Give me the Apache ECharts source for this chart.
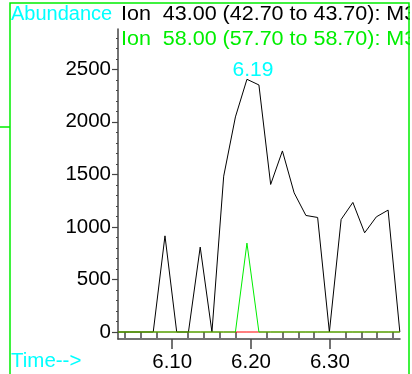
<!DOCTYPE html>
<html>
<head>
<meta charset="utf-8">
<script src="https://cdn.jsdelivr.net/npm/echarts@6/dist/echarts.min.js"></script>
<style>
html,body{margin:0;padding:0;background:#fff;}
#chart{width:412px;height:374px;}
</style>
</head>
<body>
<div id="chart"></div>
<script>
// retention times (min) of each scan
var times = [6.0312, 6.0461, 6.0610, 6.0759, 6.0908, 6.1057, 6.1206, 6.1355, 6.1504, 6.1653,
	6.1802, 6.1948, 6.2100, 6.2249, 6.2398, 6.2547, 6.2696, 6.2845, 6.2994, 6.3143,
	6.3292, 6.3441, 6.3590, 6.3739, 6.3888];
// Ion 43.00
var ion43 = [0, 0, 0, 0, 915, 0, 0, 808, 0, 1483,
	2047, 2405, 2351, 1404, 1723, 1324, 1109, 1090, 0, 1071,
	1233, 944, 1096, 1160, 0];
// third trace (red), flat on baseline
var ionRed = [0, 0, 0, 0, 0, 0, 0, 0, 0, 0,
	0, 0, 0, 0, 0, 0, 0, 0, 0, 0,
	0, 0, 0, 0, 0];
// Ion 58.00
var ion58 = [0, 0, 0, 0, 0, 0, 0, 0, 0, 0,
	0, 846, 0, 0, 0, 0, 0, 0, 0, 0,
	0, 0, 0, 0, 0];
var yLabels = [0, 500, 1000, 1500, 2000, 2500];
var yMinor = [100, 200, 300, 400, 600, 700, 800, 900, 1100, 1200, 1300, 1400, 1600, 1700, 1800, 1900,
	2100, 2200, 2300, 2400, 2600, 2700, 2800];
var xLabels = [6.10, 6.20, 6.30];
var xMinor = [6.04, 6.06, 6.08, 6.12, 6.14, 6.16, 6.18, 6.22, 6.24, 6.26, 6.28, 6.32, 6.34, 6.36, 6.38];
var title1 = 'Ion  43.00 (42.70 to 43.70): M3';
var title2 = 'Ion  58.00 (57.70 to 58.70): M3';

var FONT = 'Liberation Sans';
var CYAN = '#00ffff';
var GREEN = '#00ee00';
var AX = '#444';

function pairs(vals){
	var out = [];
	for (var i = 0; i < vals.length; i++) out.push([times[i], vals[i]]);
	return out;
}
// put the time label on the apex of ion 43
var peak = 0;
for (var i = 1; i < ion43.length; i++) if (ion43[i] > ion43[peak]) peak = i;
var data43 = pairs(ion43);
data43[peak] = {value: data43[peak], label: {show: true}};

var xMin = 6.0312, xMax = 6.389;
var yMin = -66.6, yMax = 2883.5;

var chart = echarts.init(document.getElementById('chart'), null, {renderer: 'canvas'});
var option = {
	animation: false,
	backgroundColor: '#fff',
	grid: {left: 118, right: 12, top: 29, bottom: 35},
	xAxis: [{
		type: 'value', min: xMin, max: xMax,
		axisLine: {show: true, onZero: false, lineStyle: {color: AX, width: 1.5}},
		axisTick: {show: true, length: 10, customValues: xLabels, lineStyle: {color: AX, width: 1.5}},
		axisLabel: {customValues: xLabels, margin: 13, color: '#000', fontFamily: FONT, fontSize: 20.5,
			formatter: function(v){ return v.toFixed(2); }},
		splitLine: {show: false}
	}, {
		type: 'value', min: xMin, max: xMax, position: 'bottom',
		axisLine: {show: false},
		axisTick: {show: true, length: 6, customValues: xMinor, lineStyle: {color: AX, width: 1.5}},
		axisLabel: {show: false},
		splitLine: {show: false}
	}],
	yAxis: [{
		type: 'value', min: yMin, max: yMax,
		axisLine: {show: true, onZero: false, lineStyle: {color: AX, width: 1.5}},
		axisTick: {show: true, length: 6, customValues: yLabels, lineStyle: {color: AX, width: 1.2}},
		axisLabel: {customValues: yLabels, margin: 7, color: '#000', fontFamily: FONT, fontSize: 20.5,
			formatter: function(v){ return String(v); }},
		splitLine: {show: false}
	}, {
		type: 'value', min: yMin, max: yMax, position: 'left',
		axisLine: {show: false},
		axisTick: {show: true, length: 2, customValues: yMinor, lineStyle: {color: AX, width: 1}},
		axisLabel: {show: false},
		splitLine: {show: false}
	}],
	series: [{
		name: 'ion43', type: 'line', data: data43,
		symbol: 'circle', symbolSize: 0, showSymbol: true,
		lineStyle: {color: '#000', width: 1},
		itemStyle: {color: '#000'},
		label: {show: false, position: 'top', distance: 1, offset: [6, 2], color: CYAN,
			fontFamily: FONT, fontSize: 21,
			formatter: function(p){ return (Math.floor(p.value[0] * 100) / 100).toFixed(2); }},
		z: 2
	}, {
		name: 'red', type: 'line', data: pairs(ionRed), symbol: 'none',
		lineStyle: {color: '#ff0000', width: 1}, z: 3
	}, {
		name: 'ion58', type: 'line', data: pairs(ion58), symbol: 'none',
		lineStyle: {color: GREEN, width: 1}, z: 4
	}],
	graphic: [
		{type: 'text', left: 11, top: 4, z: 10,
			style: {text: 'Abundance', fill: CYAN, font: '20px "' + FONT + '"'}},
		{type: 'text', x: 121, y: 4, scaleX: 1.075, z: 10,
			style: {text: title1, fill: '#000', font: '20px "' + FONT + '"'}},
		{type: 'text', x: 121, y: 29, scaleX: 1.075, z: 10,
			style: {text: title2, fill: GREEN, font: '20px "' + FONT + '"'}},
		{type: 'text', left: 11, top: 351, z: 10,
			style: {text: 'Time-->', fill: CYAN, font: '20.5px "' + FONT + '"'}},
		// hide text running past the frame
		{type: 'rect', shape: {x: 410, y: 0, width: 10, height: 374}, z: 20,
			style: {fill: '#fff'}},
		// frame
		{type: 'rect', shape: {x: 10, y: 3, width: 399, height: 400}, z: 30,
			style: {fill: 'none', stroke: GREEN, lineWidth: 1.5}},
		{type: 'line', shape: {x1: 0, y1: 127, x2: 10, y2: 127}, z: 30,
			style: {stroke: GREEN, lineWidth: 1.5}}
	]
};
chart.setOption(option);
</script>
</body>
</html>
